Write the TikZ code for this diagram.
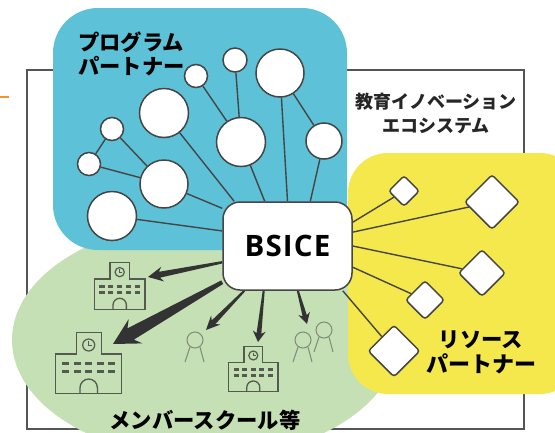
\documentclass[tikz,border=0pt]{standalone}
\usepackage{fontspec}
\setmainfont{Open Sans}
\newfontfamily\jpfont{Noto Sans CJK JP}
\usetikzlibrary{calc,shapes.geometric}
\pgfdeclarelayer{back}
\pgfdeclarelayer{mid}
\pgfsetlayers{back,mid,main}
\definecolor{bluezone}{HTML}{5DC2D8}
\definecolor{greenzone}{HTML}{C5E0B5}
\definecolor{yellowzone}{HTML}{F4E84C}
\definecolor{framegray}{HTML}{555555}
\definecolor{linegray}{HTML}{454545}
\definecolor{darkarrow}{HTML}{333333}
\definecolor{icongray}{HTML}{555A50}
\definecolor{persongray}{HTML}{7F8A7A}
\definecolor{orangemark}{HTML}{F0952A}
\tikzset{
  circ/.style={circle,draw=linegray,line width=1.5pt,fill=white,inner sep=0pt},
  diam/.style={diamond,aspect=1,draw=linegray,line width=1.5pt,fill=white,inner sep=0pt,rounded corners=3pt},
  hub/.style={rectangle,rounded corners=17pt,draw=linegray,line width=1.5pt,fill=white,minimum width=129pt,minimum height=88pt,inner sep=0pt},
  link/.style={draw=linegray,line width=1.4pt},
  lbl/.style={inner sep=0pt,font=\jpfont\bfseries\fontsize{21.3}{24}\selectfont,text=black},
  pics/school/.style={code={
    \draw[icongray,line width=1.3pt,line join=miter]
      (-33,0) -- (-33,-39.3) -- (-12.5,-39.3) -- (-12.5,-60.7) -- (12.5,-60.7) -- (12.5,-39.3) -- (33,-39.3) -- (33,0) -- cycle;
    \draw[icongray,line width=1.2pt] (0,-48.3) circle (6);
    \draw[icongray,line width=.8pt] (0,-52) -- (0,-48.3) -- (3,-48.3);
    \foreach \wx in {-23,-11.5,0,11.5,23}\foreach \wy in {-30,-22}
      \fill[icongray] (\wx-3.3,\wy-1.8) rectangle (\wx+3.3,\wy+1.8);
    \draw[icongray,line width=1.3pt] (-8.7,0) -- (-8.7,-5.6) arc[start angle=180,end angle=360,radius=8.7] -- (8.7,0);
  }},
  pics/person/.style={code={
    \draw[persongray,line width=1pt] (0,0) circle (8);
    \draw[persongray,line width=1pt] (-5,7) -- (-10,22) (5,7) -- (9,22);
  }}
}
% from, to, half width at start, half width at head, half head width, head length
\newcommand\taper[6]{%
  \begin{scope}
  \coordinate (tpH) at ($(#2)!#6!(#1)$);
  \coordinate (tpJ) at ($(#2)!0.78!(tpH)$);
  \fill[darkarrow] ($(#1)!#3!90:(#2)$) -- ($(tpJ)!#4!90:(#2)$) -- ($(tpH)!#5!90:(#2)$) -- (#2)
     -- ($(tpH)!#5!-90:(#2)$) -- ($(tpJ)!#4!-90:(#2)$) -- ($(#1)!#3!-90:(#2)$) -- cycle;
  \end{scope}}
\begin{document}
\begin{tikzpicture}[x=1pt,y=-1pt]
\useasboundingbox (0,0) rectangle (555,432);

\node[hub,font=\bfseries\fontsize{29.5}{32}\selectfont\addfontfeature{LetterSpace=4}] (b) at (287.5,246) {BSICE};

\node[circ,minimum size=23pt] (c1) at (196,76) {};
\node[circ,minimum size=24pt] (c2) at (235,60) {};
\node[circ,minimum size=48pt] (c3) at (280,73) {};
\node[circ,minimum size=49pt] (c4) at (164,113) {};
\node[circ,minimum size=49pt] (c5) at (241,142) {};
\node[circ,minimum size=23pt] (c6) at (112,129) {};
\node[circ,minimum size=23pt] (c7) at (89,164) {};
\node[circ,minimum size=48pt] (c8) at (164,184) {};
\node[circ,minimum size=49pt] (c9) at (112,216) {};
\node[circ,minimum size=36pt] (c10) at (324,141) {};

\node[diam,minimum size=31pt] (d1) at (404,191) {};
\node[diam,minimum size=55pt] (d2) at (492,202) {};
\node[diam,minimum size=47pt] (d3) at (482,273) {};
\node[diam,minimum size=39pt] (d4) at (425,300) {};
\node[diam,minimum size=52pt] (d5) at (394,351) {};

\begin{pgfonlayer}{back}
  \begin{scope}
  \clip (0,0) rectangle (555,432);
  \fill[white] (0,0) rectangle (555,432);
  \draw[framegray,line width=1.5pt] (27,70) rectangle (524,429);
  \fill[greenzone] (205,340) ellipse [x radius=193,y radius=118];
  \fill[bluezone,rounded corners=45pt] (53,8) rectangle (347,250);
  \fill[yellowzone,rounded corners=40pt] (348,153) rectangle (580,394);
  \draw[orangemark,line width=1.6pt] (0,97) -- (9,97);
  \end{scope}
\end{pgfonlayer}

\begin{pgfonlayer}{mid}
  \draw[link] (c1) -- (c5);
  \draw[link] (c2) -- (c5);
  \draw[link] (c3) -- (b.90);
  \draw[link] (c3) -- (c10);
  \draw[link] (c10) -- (b.63);
  \draw[link] (c4) -- (b.140.6);
  \draw[link] (c5) -- (b.117);
  \draw[link] (c6) -- (c7);
  \draw[link] (c6) -- (c8);
  \draw[link] (c7) -- (c8);
  \draw[link] (c8) -- (b.150.5);
  \draw[link] (c9) -- (b.167.8);
  \draw[link] (d1) -- (b.20.7);
  \draw[link] (d2) -- (b.12.4);
  \draw[link] (d3) -- (b.0);
  \draw[link] (d4) -- (b.-18.3);
  \draw[link] (d5) -- (b.-39);
  \coordinate (t1) at (148,277);
  \coordinate (t2) at (113,344);
  \coordinate (t3) at (206,330);
  \coordinate (t4) at (258,342);
  \coordinate (t5) at (307,324);
  \taper{b.194}{t1}{1.2pt}{3pt}{7.5pt}{15pt}
  \taper{b.209.6}{t2}{2pt}{6.5pt}{14pt}{26pt}
  \taper{b.226.7}{t3}{1pt}{2.6pt}{6.5pt}{14pt}
  \taper{b.242}{t4}{1pt}{2.4pt}{6.5pt}{11pt}
  \taper{b.283}{t5}{1pt}{2.2pt}{6pt}{11pt}
\end{pgfonlayer}

\pic[scale=.77] (s1) at (119.7,309.3) {school};
\pic (s2) at (88.7,393.3) {school};
\pic[scale=.75] (s3) at (253.3,391.7) {school};
\pic (p1) at (195,340) {person};
\pic (p2) at (303,340) {person};
\pic (p3) at (324,330) {person};

\node[lbl,anchor=west] (t-prog1) at (78,42) {プログラム};
\node[lbl,anchor=west] (t-prog2) at (78,66) {パートナー};
\node[lbl,font=\jpfont\bfseries\fontsize{18}{20}\selectfont,text=black!85] (t-eco1) at (436,102) {教育イノベーション};
\node[lbl,font=\jpfont\bfseries\fontsize{18}{20}\selectfont,text=black!85] (t-eco2) at (436,126) {エコシステム};
\node[lbl] (t-res1) at (481,340) {リソース};
\node[lbl,font=\jpfont\bfseries\fontsize{22}{24}\selectfont] (t-res2) at (481,364) {パートナー};
\node[lbl] (t-mem) at (205,420) {メンバースクール等};
\end{tikzpicture}
\end{document}
